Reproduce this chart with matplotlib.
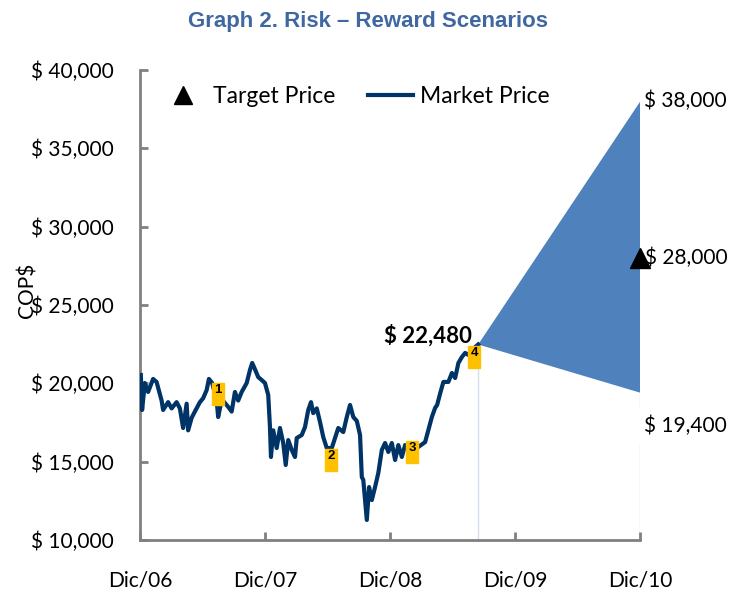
import matplotlib.pyplot as plt
from matplotlib.patches import Rectangle
from matplotlib.lines import Line2D

# años desde Dic/06 y precio de mercado (COP$)
years = [0.008, 0.018, 0.04, 0.066, 0.106, 0.134, 0.174, 0.186, 0.226, 0.254,
         0.294, 0.32, 0.346, 0.374, 0.386, 0.414, 0.44, 0.48, 0.506, 0.534,
         0.552, 0.578, 0.614, 0.626, 0.648, 0.664, 0.706, 0.734, 0.76, 0.786,
         0.814, 0.854, 0.88, 0.898, 0.92, 0.946, 0.974, 1.0, 1.026, 1.04,
         1.048, 1.066, 1.094, 1.12, 1.146, 1.166, 1.186, 1.214, 1.24, 1.254,
         1.294, 1.32, 1.346, 1.368, 1.386, 1.414, 1.44, 1.466, 1.494, 1.534,
         1.56, 1.586, 1.626, 1.654, 1.68, 1.706, 1.734, 1.76, 1.774, 1.786,
         1.814, 1.832, 1.854, 1.88, 1.906, 1.934, 1.96, 1.986, 2.014, 2.04,
         2.066, 2.094, 2.12, 2.168, 2.226, 2.28, 2.306, 2.334, 2.36, 2.376,
         2.4, 2.426, 2.466, 2.494, 2.52, 2.546, 2.574, 2.6, 2.626, 2.664,
         2.704]
price = [20530, 18300, 20020, 19450, 20280, 20085, 18900, 18300, 18800, 18400,
         18800, 18400, 17150, 18700, 17000, 17800, 18200, 18800, 19050, 19570,
         20280, 20020, 18900, 17850, 18700, 18900, 18500, 18200, 19450, 18900,
         19450, 20020, 20850, 21300, 20900, 20400, 20210, 20020, 19260, 17210,
         15300, 17000, 15870, 17150, 16190, 14790, 16380, 15750, 15300, 16510,
         16700, 17210, 18300, 18800, 18100, 18400, 17530, 16570, 15870, 15870,
         16510, 17150, 16890, 17850, 18620, 17850, 17600, 16700, 14020, 13830,
         11280, 13380, 12550, 13380, 14280, 15750, 16190, 15620, 16190, 15110,
         16060, 15300, 16060, 15700, 15940, 16250, 17020, 17850, 18430, 18620,
         19350, 20090, 20090, 20660, 20340, 21300, 21680, 21940, 21810, 22200,
         22480]

last_price = 22480
bull = 38000
target = 28000
bear = 19400
end_year = 4

tick_pos = [0, 1, 2, 3, 4]
tick_labels = ["Dic/06", "Dic/07", "Dic/08", "Dic/09", "Dic/10"]

# eventos numerados (cajas amarillas)
ev_labels = ["1", "2", "3", "4"]
ev_x = [0.576, 1.48, 2.128, 2.624]
ev_top = [20021, 15809, 16319, 22383]

plt.rcParams['font.family'] = ['Lato', 'DejaVu Sans']

fig = plt.figure(figsize=(7.36, 5.92), dpi=100)
ax = fig.add_axes([0.190, 0.0878, 0.680, 0.794])

# escenario riesgo - retorno
ax.fill([years[-1], end_year, end_year], [last_price, bull, bear],
        color="#4F81BD", lw=0, zorder=1)
ax.vlines([years[-1], end_year], 10000, [last_price - 1500, bear],
          color="#D5DEEA", lw=1, zorder=0)

ax.plot(years, price, color="#003366", lw=3, zorder=3)
ax.plot([end_year], [target], marker="^", color="black", ms=15,
        clip_on=False, zorder=5)

for lab, x0, top in zip(ev_labels, ev_x, ev_top):
    ax.add_patch(Rectangle((x0, top - 1404), 0.096, 1404, color="#FFC000", zorder=4))
    ax.text(x0 + 0.048, top - 420, lab, ha="center", va="center",
            fontsize=9.5, fontweight="bold", family="Liberation Sans", zorder=5)

ax.text(years[-1] - 0.05, last_price + 600, "$ 22,480", ha="right", va="center",
        fontsize=16, fontweight="bold", zorder=5)
ax.text(end_year + 0.03, bull, "$ 38,000", ha="left", va="center", fontsize=15,
        clip_on=False)
ax.text(end_year + 0.04, target, "$ 28,000", ha="left", va="center", fontsize=15,
        clip_on=False)
ax.text(end_year + 0.03, bear - 2100, "$ 19,400", ha="left", va="center", fontsize=15,
        clip_on=False, bbox=dict(facecolor="white", edgecolor="none", pad=6))

ax.set_xlim(0, end_year)
ax.set_ylim(10000, 40000)
ax.set_xticks(tick_pos)
ax.set_xticklabels(tick_labels, fontsize=15)
ax.set_yticks(range(10000, 40001, 5000))
ax.set_yticklabels(["$ {:,}".format(v) for v in range(10000, 40001, 5000)], fontsize=15)
ax.tick_params(direction="in", length=6, width=2, color="#808080")
ax.tick_params(axis="x", pad=22)
ax.tick_params(axis="y", pad=19)
for s in ["top", "right"]:
    ax.spines[s].set_visible(False)
for s in ["left", "bottom"]:
    ax.spines[s].set_color("#808080")
    ax.spines[s].set_linewidth(2)

handles = [Line2D([], [], marker="^", color="black", ls="none", ms=13),
           Line2D([], [], color="#003366", lw=3)]
ax.legend(handles, ["Target Price", "Market Price"], ncol=2, frameon=False,
          fontsize=16.5, loc="upper left", bbox_to_anchor=(0.0, 1.01),
          handlelength=2.0, columnspacing=1.4, handletextpad=0.3)

fig.text(0.038, 1 - 290 / 592, "COP$", rotation=90, ha="center", va="center", fontsize=15)
fig.text(0.5, 1 - 22 / 592, "Graph 2. Risk \u2013 Reward Scenarios", ha="center",
         va="center", fontsize=16, fontweight="bold", color="#3F67A2",
         family="Liberation Sans")

fig.savefig("out.png", dpi=100)
